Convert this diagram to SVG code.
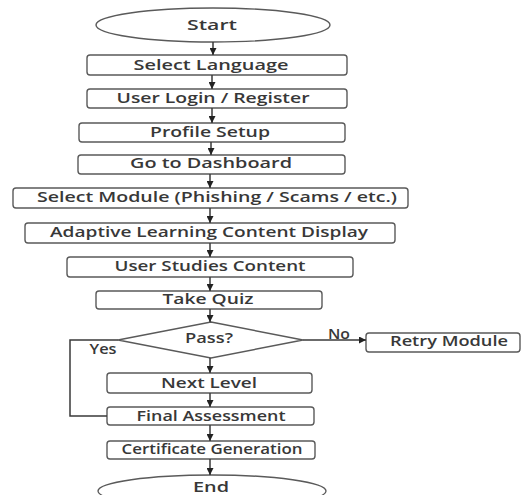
<svg xmlns="http://www.w3.org/2000/svg" width="527" height="495" viewBox="0 0 527 495">
<style>
.n{fill:#fff;stroke:#5a5a5a;stroke-width:1.4}
.t{font-family:"Open Sans","DejaVu Sans",sans-serif;font-weight:600;font-size:13.5px;fill:#383838;text-anchor:middle}
.c{fill:none;stroke:#3a3a3a;stroke-width:1.5}
</style>
<defs>
<marker id="a" viewBox="0 0 10 10" refX="10" refY="5" markerWidth="7" markerHeight="7" markerUnits="userSpaceOnUse" orient="auto">
<path d="M0,0 L10,5 L0,10 z" fill="#222"/>
</marker>
</defs>
<rect width="527" height="495" fill="#fff"/>
<g id="start"><ellipse class="n" cx="213" cy="25" rx="117" ry="17"/><text class="t" x="212" y="30" textLength="50" lengthAdjust="spacingAndGlyphs">Start</text></g>
<g id="lang"><rect class="n" x="87" y="55" width="260" height="20" rx="3"/><text class="t" x="211" y="70" textLength="155" lengthAdjust="spacingAndGlyphs">Select Language</text></g>
<g id="login"><rect class="n" x="87" y="89" width="260" height="19" rx="3"/><text class="t" x="213" y="103" textLength="193" lengthAdjust="spacingAndGlyphs">User Login / Register</text></g>
<g id="profile"><rect class="n" x="79" y="123" width="266" height="19" rx="3"/><text class="t" x="210" y="137" textLength="120" lengthAdjust="spacingAndGlyphs">Profile Setup</text></g>
<g id="dash"><rect class="n" x="78" y="155" width="267" height="19" rx="3"/><text class="t" x="211" y="168" textLength="162" lengthAdjust="spacingAndGlyphs">Go to Dashboard</text></g>
<g id="module"><rect class="n" x="13" y="188" width="395" height="20" rx="3"/><text class="t" x="217" y="202" textLength="360" lengthAdjust="spacingAndGlyphs">Select Module (Phishing / Scams / etc.)</text></g>
<g id="adaptive"><rect class="n" x="25" y="223" width="370" height="20" rx="3"/><text class="t" x="209" y="237" textLength="318" lengthAdjust="spacingAndGlyphs">Adaptive Learning Content Display</text></g>
<g id="studies"><rect class="n" x="67" y="257" width="286" height="20" rx="3"/><text class="t" x="210" y="271" textLength="191" lengthAdjust="spacingAndGlyphs">User Studies Content</text></g>
<g id="quiz"><rect class="n" x="96" y="291" width="226" height="18" rx="3"/><text class="t" x="208" y="304" textLength="91" lengthAdjust="spacingAndGlyphs">Take Quiz</text></g>
<g id="pass"><polygon class="n" points="211,322 303,340 211,358 118,340"/><text class="t" x="209" y="343" textLength="48" lengthAdjust="spacingAndGlyphs">Pass?</text></g>
<g id="retry"><rect class="n" x="366" y="333" width="154" height="19" rx="3"/><text class="t" x="449" y="346" textLength="118" lengthAdjust="spacingAndGlyphs">Retry Module</text></g>
<g id="next"><rect class="n" x="107" y="373" width="205" height="20" rx="3"/><text class="t" x="209" y="388" textLength="96" lengthAdjust="spacingAndGlyphs">Next Level</text></g>
<g id="final"><rect class="n" x="107" y="407" width="207" height="18" rx="3"/><text class="t" x="211" y="421" textLength="149" lengthAdjust="spacingAndGlyphs">Final Assessment</text></g>
<g id="cert"><rect class="n" x="107" y="441" width="208" height="18" rx="3"/><text class="t" x="212" y="454" textLength="181" lengthAdjust="spacingAndGlyphs">Certificate Generation</text></g>
<g id="end"><ellipse class="n" cx="212" cy="491" rx="114" ry="16"/><text class="t" x="211" y="492" font-size="13" textLength="36" lengthAdjust="spacingAndGlyphs">End</text></g>
<g id="connectors">
<path class="c" d="M213,42 V55" marker-end="url(#a)"/>
<path class="c" d="M212,75 V89" marker-end="url(#a)"/>
<path class="c" d="M212,108 V123" marker-end="url(#a)"/>
<path class="c" d="M211,142 V155" marker-end="url(#a)"/>
<path class="c" d="M210,174 V188" marker-end="url(#a)"/>
<path class="c" d="M210,208 V223" marker-end="url(#a)"/>
<path class="c" d="M210,243 V257" marker-end="url(#a)"/>
<path class="c" d="M210,277 V291" marker-end="url(#a)"/>
<path class="c" d="M210,309 V322" marker-end="url(#a)"/>
<path class="c" d="M210,358 V373" marker-end="url(#a)"/>
<path class="c" d="M210,393 V407" marker-end="url(#a)"/>
<path class="c" d="M210,425 V441" marker-end="url(#a)"/>
<path class="c" d="M210,459 V475" marker-end="url(#a)"/>
<path class="c" d="M303,340 H366" marker-end="url(#a)"/>
<path class="c" d="M118,340 H70 V416 H107"/>
<text class="t" x="339" y="339" font-size="12" textLength="22" lengthAdjust="spacingAndGlyphs">No</text>
<text class="t" x="103" y="354" font-size="12" textLength="27" lengthAdjust="spacingAndGlyphs">Yes</text>
</g>
</svg>
